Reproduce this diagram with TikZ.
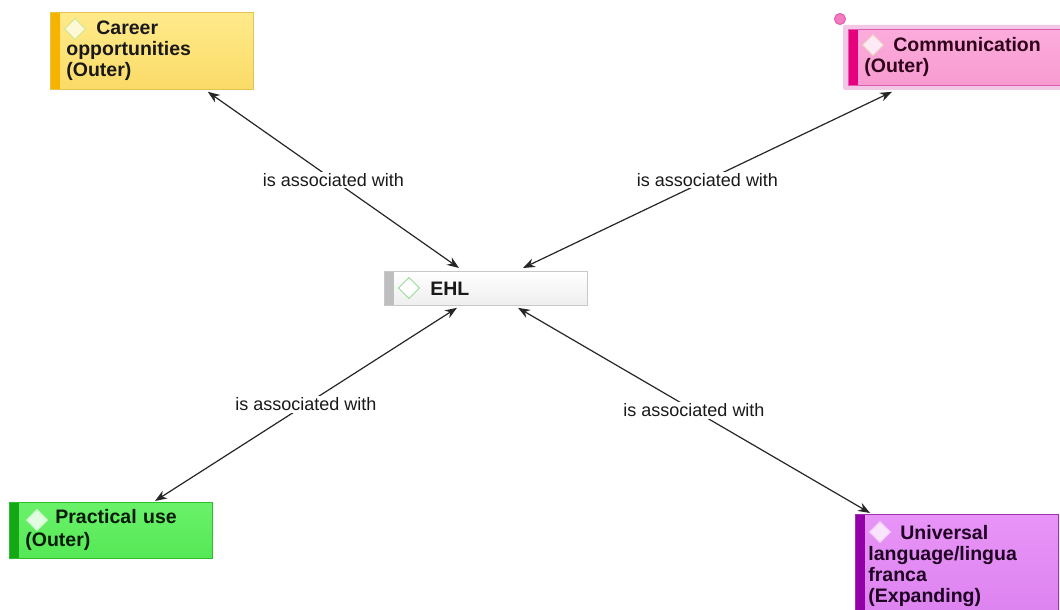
\documentclass[tikz,border=0pt]{standalone}
\usepackage{fontspec}
\setmainfont{Liberation Sans}
\usetikzlibrary{shapes.geometric,arrows.meta,backgrounds}

\definecolor{careerTop}{HTML}{FFEA8A}
\definecolor{careerBot}{HTML}{FADB68}
\definecolor{careerEdge}{HTML}{E6C24E}
\definecolor{careerBar}{HTML}{F6B400}
\definecolor{commTop}{HTML}{FBACDC}
\definecolor{commBot}{HTML}{F89AD1}
\definecolor{commEdge}{HTML}{E05AAE}
\definecolor{commBar}{HTML}{E6007E}
\definecolor{commHalo}{HTML}{F3C8E6}
\definecolor{commDot}{HTML}{F47CC0}
\definecolor{ehlTop}{HTML}{FFFFFF}
\definecolor{ehlBot}{HTML}{EEEEEE}
\definecolor{ehlEdge}{HTML}{C8C8C8}
\definecolor{ehlBar}{HTML}{BEBEBE}
\definecolor{pracTop}{HTML}{6AF26A}
\definecolor{pracBot}{HTML}{55E855}
\definecolor{pracEdge}{HTML}{2DBE2D}
\definecolor{pracBar}{HTML}{14A814}
\definecolor{uniTop}{HTML}{E894F7}
\definecolor{uniBot}{HTML}{DD82F0}
\definecolor{uniEdge}{HTML}{A030B0}
\definecolor{uniBar}{HTML}{9400A8}

\tikzset{
  topic/.style n args={5}{
    anchor=north west, rectangle, draw=#3, line width=0.8pt,
    top color=#1, bottom color=#2, text=#5,
    text width=171pt, inner xsep=16pt, inner ysep=4pt, align=left,
    minimum width=203pt,
    font=\fontsize{19.5}{21}\selectfont\bfseries,
    path picture={\fill[#4] (path picture bounding box.north west)
      rectangle ([xshift=10pt]path picture bounding box.south west);}
  },
  mark diamond/.style 2 args={
    diamond, minimum width=21pt, minimum height=21pt, inner sep=0pt, outer sep=0pt,
    fill=#1, draw=#2, line width=1pt
  },
  assoc/.style={
    {Stealth[length=12pt,width=9pt]}-{Stealth[length=12pt,width=9pt]},
    line width=1.2pt, draw=black!85
  },
  lbl/.style={
    fill=white, inner sep=1.5pt, text=black!90,
    font=\fontsize{18}{20}\selectfont
  }
}

\begin{document}
\begin{tikzpicture}[x=1pt,y=-1pt]
\useasboundingbox (0,0) rectangle (1060,610);
\clip (0,0) rectangle (1060,610);

% topic boxes
\node[topic={careerTop}{careerBot}{careerEdge}{careerBar}{black!90}, minimum height=77pt]
  (career) at (50,12) {\hspace*{30pt}Career\\opportunities\\(Outer)};
\node[topic={commTop}{commBot}{commEdge}{commBar}{black!80!commBar}, minimum height=56pt,
      text width=200pt, minimum width=232pt]
  (comm) at (848,29) {\hspace*{29pt}Communication\\(Outer)};
\node[topic={ehlTop}{ehlBot}{ehlEdge}{ehlBar}{black!90}, minimum height=34pt]
  (ehl) at (384,271) {\hspace*{30pt}EHL};
\node[topic={pracTop}{pracBot}{pracEdge}{pracBar}{black!85!pracBar}, minimum height=56pt,
      inner ysep=2pt]
  (prac) at (9,502) {\hspace*{30pt}Practical use\\[2pt](Outer)};
\node[topic={uniTop}{uniBot}{uniEdge}{uniBar}{black!80!uniBar}, minimum height=104pt,
      inner xsep=13pt, text width=177pt]
  (uni) at (855,514) {\hspace*{32pt}Universal\\language/lingua\\franca\\(Expanding)};

% selection halo and handle of the communication box
\begin{scope}[on background layer]
  \fill[white] (0,0) rectangle (1060,610);
  \fill[commHalo, rounded corners=2pt]
    ([xshift=-5pt,yshift=4pt]comm.north west) rectangle ([xshift=5pt,yshift=-4pt]comm.south east);
\end{scope}
\node[circle, minimum size=11pt, inner sep=0pt, fill=commDot, draw=commEdge, line width=1pt]
  (commdot) at ([xshift=-8pt,yshift=10pt]comm.north west) {};

% diamond markers in front of the first line
\node[mark diamond={careerTop!35!white}{green!30!careerEdge!55!white}] (careerd)
  at ([xshift=25pt,yshift=-17pt]career.north west) {};
\node[mark diamond={commTop!25!white}{brown!35!white}] (commd)
  at ([xshift=25pt,yshift=-16pt]comm.north west) {};
\node[mark diamond={white}{green!50!gray!55!white}] (ehld)
  at ([xshift=25pt,yshift=-17pt]ehl.north west) {};
\node[mark diamond={pracTop!20!white}{pracTop!35!white}] (pracd)
  at ([xshift=28pt,yshift=-18pt]prac.north west) {};
\node[mark diamond={uniTop!25!white}{uniTop!50!white}] (unid)
  at ([xshift=25pt,yshift=-18pt]uni.north west) {};

% associations
\draw[assoc] ([xshift=-46pt,yshift=-2pt]career.south east)
  -- node[lbl] {is associated with} ([xshift=75pt,yshift=3pt]ehl.north west);
\draw[assoc] ([xshift=44pt,yshift=-6pt]comm.south west)
  -- node[lbl] {is associated with} ([xshift=139pt,yshift=3pt]ehl.north west);
\draw[assoc] ([xshift=146pt,yshift=1pt]prac.north west)
  -- node[lbl] {is associated with} ([xshift=73pt,yshift=-2pt]ehl.south west);
\draw[assoc] ([xshift=15pt,yshift=1pt]uni.north west)
  -- node[lbl] {is associated with} ([xshift=134pt,yshift=-2pt]ehl.south west);
\end{tikzpicture}
\end{document}
